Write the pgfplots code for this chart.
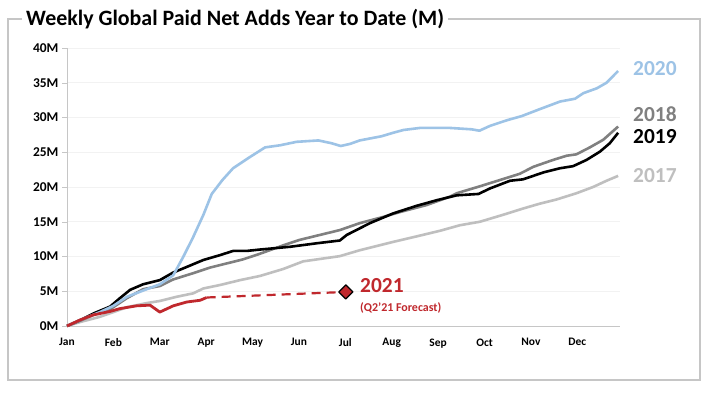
\documentclass[border=0pt]{standalone}
\usepackage{pgfplots}
\pgfplotsset{compat=1.18}
\usepackage{fontspec}
\setmainfont{Carlito}
\definecolor{c20}{HTML}{9DC3E6}
\definecolor{c19}{HTML}{000000}
\definecolor{c18}{HTML}{808080}
\definecolor{c17}{HTML}{BFBFBF}
\definecolor{c21}{HTML}{C0282D}
\begin{document}
\begin{tikzpicture}
\path[use as bounding box] (0,0) rectangle (709bp,394bp);
\fill[white] (0,0) rectangle (709bp,394bp);
\draw[color=gray!45, line width=1.2bp] (8bp,14bp) rectangle (700bp,375bp);
\begin{axis}[
  scale only axis, width=553bp, height=278bp,
  at={(67bp,68bp)}, anchor=south west,
  xmin=0, xmax=11.92, ymin=0, ymax=40,
  xtick={0,...,11},
  xticklabels={Jan,Feb,Mar,Apr,May,Jun,Jul,Aug,Sep,Oct,Nov,Dec},
  ytick={0,5,...,40},
  yticklabels={0M,5M,10M,15M,20M,25M,30M,35M,40M},
  axis lines*=left,
  axis line style={draw=gray!45, -},
  ymajorgrids, grid style={draw=gray!10, line width=0.6bp},
  tick align=outside,
  major tick length=5bp,
  ytick style={draw=gray!45},
  xtick style={draw=none},
  yticklabel style={font=\bfseries\fontsize{13.5}{14}\selectfont},
  xticklabel style={font=\bfseries\fontsize{11.5}{12}\selectfont, yshift=-4bp},
  clip=false,
  line join=round,
]
\addplot[c17, line width=2.6bp] coordinates {(0,0) (0.3,0.6) (0.7,1.3) (1.0,2.0) (1.29,2.7) (1.72,3.3) (2.0,3.6) (2.36,4.2) (2.72,4.7) (2.94,5.4) (3.3,5.9) (3.73,6.6) (4.16,7.2) (4.66,8.2) (5.09,9.3) (5.88,10.05) (6.31,10.9) (7.03,12.1) (7.54,12.9) (8.04,13.7) (8.47,14.5) (8.9,15.0) (9.4,16.0) (9.83,16.9) (10.19,17.6) (10.55,18.2) (10.98,19.1) (11.34,20.0) (11.63,20.9) (11.88,21.6)};
\addplot[c18, line width=2.6bp] coordinates {(0,0) (0.3,0.8) (0.57,1.6) (0.93,2.4) (1.29,4.0) (1.64,5.3) (2.0,5.75) (2.29,6.7) (2.72,7.6) (3.08,8.4) (3.44,9.0) (3.8,9.6) (4.16,10.4) (4.66,11.6) (5.02,12.4) (5.45,13.1) (5.88,13.8) (6.31,14.8) (6.82,15.7) (7.18,16.4) (7.75,17.4) (8.25,18.6) (8.4,19.1) (8.9,20.1) (9.33,21.0) (9.76,21.9) (10.05,22.9) (10.48,23.9) (10.77,24.5) (10.98,24.7) (11.27,25.7) (11.56,26.8) (11.88,28.7)};
\addplot[c19, line width=2.6bp] coordinates {(0,0) (0.3,0.9) (0.57,1.8) (0.93,2.8) (1.14,4.0) (1.36,5.2) (1.64,6.0) (2.0,6.6) (2.29,7.7) (2.51,8.3) (2.94,9.5) (3.3,10.2) (3.58,10.8) (3.87,10.8) (4.16,11.0) (4.81,11.4) (5.38,11.9) (5.88,12.3) (6.03,13.1) (6.53,14.8) (7.03,16.2) (7.54,17.3) (7.97,18.1) (8.4,18.8) (8.87,19.0) (9.12,19.8) (9.55,20.9) (9.83,21.1) (10.27,22.1) (10.63,22.7) (10.91,23.0) (11.2,23.9) (11.49,25.1) (11.7,26.3) (11.88,27.8)};
\addplot[c20, line width=2.6bp] coordinates {(0,0) (0.3,0.9) (0.71,2.0) (1.0,2.9) (1.29,4.2) (1.72,5.3) (2.0,6.0) (2.29,7.3) (2.51,10.0) (2.72,12.8) (2.94,16.0) (3.12,19.0) (3.35,21.0) (3.58,22.7) (3.94,24.3) (4.27,25.7) (4.59,26.0) (4.95,26.5) (5.42,26.7) (5.7,26.3) (5.9,25.9) (6.1,26.2) (6.31,26.7) (6.78,27.3) (7.03,27.8) (7.25,28.2) (7.61,28.5) (8.25,28.5) (8.72,28.3) (8.89,28.1) (9.12,28.8) (9.48,29.6) (9.8,30.2) (10.19,31.2) (10.63,32.3) (10.95,32.7) (11.13,33.5) (11.42,34.2) (11.63,35.0) (11.88,36.7)};
\addplot[c21, line width=2.8bp] coordinates {(0,0) (0.28,0.86) (0.57,1.6) (0.93,2.1) (1.14,2.5) (1.5,2.9) (1.79,3.0) (2.0,2.0) (2.29,2.9) (2.58,3.45) (2.87,3.7) (3.01,4.1)};
\addplot[c21, line width=2.2bp, dash pattern=on 9bp off 6bp] coordinates {(3.01,4.1) (6.01,4.9)};
\addplot[only marks, mark=square*, mark size=5bp, mark options={rotate=45, fill=c21, draw=black, line width=1.2bp}] coordinates {(6.01,4.9)};
\end{axis}
\node[anchor=west, fill=white, inner xsep=4bp, font=\bfseries\fontsize{22}{22}\selectfont] at (22bp,375bp) {Weekly Global Paid Net Adds Year to Date (M)};
\begin{scope}[every node/.style={anchor=west, font=\bfseries\fontsize{21.5}{21.5}\selectfont, inner sep=0pt}]
\node[text=c20] at (633bp,325bp) {2020};
\node[text=c18] at (633bp,279.5bp) {2018};
\node[text=c19] at (633bp,257.5bp) {2019};
\node[text=c17] at (633bp,218.5bp) {2017};
\node[text=c21] at (360bp,108bp) {2021};
\end{scope}
\node[anchor=west, inner sep=0pt, text=c21, font=\bfseries\fontsize{12}{12}\selectfont] at (360bp,86bp) {(Q2'21 Forecast)};
\end{tikzpicture}
\end{document}
